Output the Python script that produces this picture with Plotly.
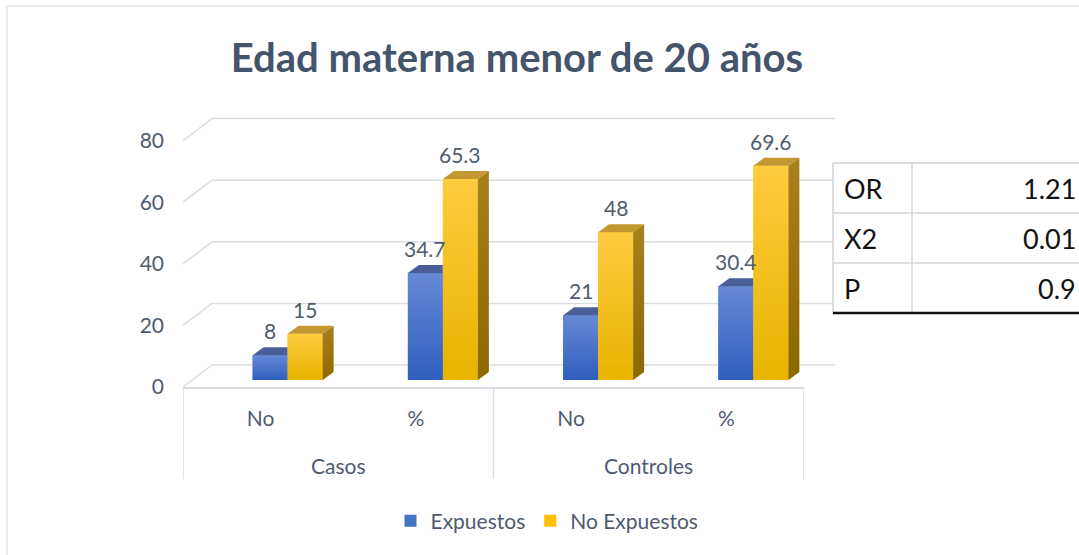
import plotly.graph_objects as go

# chart data
groups = ["Casos", "Casos", "Controles", "Controles"]
subcats = ["No", "%", "No", "%"]
expuestos = [8, 34.7, 21, 30.4]
no_expuestos = [15, 65.3, 48, 69.6]
yticks = [0, 20, 40, 60, 80]
table_labels = ["OR", "X2", "P"]
table_values = ["1.21", "0.01", "0.9"]

W, H = 1079, 555


def px(x):
    return x / W


def py(y):
    return 1 - y / H


FONT = "Lato"
text_c = "#4F5B6E"
grid_c = "#DADDE3"

# pixel geometry of the fake 3D box
k = 3.08                      # px per value unit
base_px = 380                 # where value 0 of the bars sits
front = -7 / k                # front edge of the floor / walls
back = 15 / k                 # back wall
cat_w = (804 - 183) / 4       # px per category
bw = 35 / cat_w
shift = 27 / cat_w
dx = 11 / cat_w
dy = 8 / k

idx = list(range(len(subcats)))

series = [
    dict(name="Expuestos", vals=expuestos, off=shift - bw, mid="#4472C4",
         grad=[[0, "#2F5EBE"], [1, "#6689D5"]], top="#4A5F98", side=None),
    dict(name="No Expuestos", vals=no_expuestos, off=shift, mid="#FFC000",
         grad=[[0, "#E8B400"], [1, "#FFCB40"]], top="#C49830",
         side=[[0, "#8C6800"], [1, "#A8801C"]]),
]

fig = go.Figure()

for s in series:
    fig.add_trace(go.Bar(x=idx, y=s["vals"], width=bw, offset=s["off"], name=s["name"],
                         marker=dict(color=s["mid"], line_width=0), hoverinfo="skip"))

annotations = []
for n, s in enumerate(series):
    for j, v in zip(idx, s["vals"]):
        xl = j + s["off"]
        xr = xl + bw
        # front face with gradient
        fig.add_trace(go.Scatter(x=[xl, xr, xr, xl, xl], y=[0, 0, v, v, 0], fill="toself",
                                 fillgradient=dict(type="vertical", colorscale=s["grad"]),
                                 mode="lines", line=dict(width=0), showlegend=False, hoverinfo="skip"))
        # top face
        if s["side"] is None:
            tx = [xl, xl + dx, xr, xr, xl]
        else:
            tx = [xl, xl + dx, xr + dx, xr, xl]
        fig.add_trace(go.Scatter(x=tx, y=[v, v + dy, v + dy, v, v], fill="toself",
                                 fillcolor=s["top"], mode="lines", line=dict(width=0),
                                 showlegend=False, hoverinfo="skip"))
        # right side face
        if s["side"] is not None:
            fig.add_trace(go.Scatter(x=[xr, xr + dx, xr + dx, xr, xr], y=[0, dy, v + dy, v, 0],
                                     fill="toself",
                                     fillgradient=dict(type="vertical", colorscale=s["side"]),
                                     mode="lines", line=dict(width=0), showlegend=False,
                                     hoverinfo="skip"))
        annotations.append(dict(x=xl + bw / 2, y=v, xref="x", yref="y", text=f"{v:g}",
                                showarrow=False, yanchor="bottom", yshift=10,
                                font=dict(family=FONT, size=21, color=text_c)))

shapes = []
# outer chart border
shapes.append(dict(type="rect", xref="paper", yref="paper", x0=px(7), x1=px(1100),
                   y0=py(600), y1=py(6), line=dict(color="#E1E3E8", width=1.5), layer="below"))
# back wall gridlines and side wall diagonals
for v in yticks:
    shapes.append(dict(type="line", xref="paper", yref="y", x0=px(212), x1=px(835),
                       y0=v + back, y1=v + back, line=dict(color=grid_c, width=1.5), layer="below"))
    shapes.append(dict(type="line", xref="paper", yref="y", x0=px(183), x1=px(212),
                       y0=v + front, y1=v + back, line=dict(color=grid_c, width=1.5), layer="below"))

# category group dividers and labels
bounds = [-0.5]
for j in range(1, len(groups)):
    if groups[j] != groups[j - 1]:
        bounds.append(j - 0.5)
bounds.append(len(groups) - 0.5)
for b in bounds:
    shapes.append(dict(type="line", xref="x", yref="paper", x0=b, x1=b, y0=py(479), y1=py(387),
                       line=dict(color=grid_c, width=1.5)))
for g in dict.fromkeys(groups):
    pos = [j for j in idx if groups[j] == g]
    annotations.append(dict(x=sum(pos) / len(pos), y=py(465), xref="x", yref="paper", text=g,
                            showarrow=False, yanchor="middle",
                            font=dict(family=FONT, size=21, color=text_c)))

# stats table on the right
t_top, row_h = 163, 50
t_bot = t_top + row_h * len(table_labels)
shapes.append(dict(type="rect", xref="paper", yref="paper", x0=px(833), x1=px(1100),
                   y0=py(t_bot), y1=py(t_top), fillcolor="white",
                   line=dict(color="#D4D4D4", width=1.5)))
for r in range(1, len(table_labels)):
    shapes.append(dict(type="line", xref="paper", yref="paper", x0=px(833), x1=px(1100),
                       y0=py(t_top + row_h * r), y1=py(t_top + row_h * r),
                       line=dict(color="#D4D4D4", width=1.5)))
shapes.append(dict(type="line", xref="paper", yref="paper", x0=px(912), x1=px(912),
                   y0=py(t_bot), y1=py(t_top), line=dict(color="#D4D4D4", width=1.5)))
shapes.append(dict(type="line", xref="paper", yref="paper", x0=px(833), x1=px(1100),
                   y0=py(t_bot), y1=py(t_bot), line=dict(color="#111111", width=2.5)))
for r, (lab, val) in enumerate(zip(table_labels, table_values)):
    yc = py(t_top + row_h * r + row_h / 2)
    annotations.append(dict(x=px(842), y=yc, xref="paper", yref="paper", text=lab,
                            showarrow=False, xanchor="left", yanchor="middle",
                            font=dict(family=FONT, size=27, color="#111111")))
    annotations.append(dict(x=px(1078), y=yc, xref="paper", yref="paper", text=val,
                            showarrow=False, xanchor="right", yanchor="middle",
                            font=dict(family=FONT, size=27, color="#111111")))

fig.update_layout(
    width=W, height=H,
    margin=dict(l=0, r=0, t=0, b=0, autoexpand=False),
    paper_bgcolor="white", plot_bgcolor="rgba(0,0,0,0)",
    title=dict(text="<b>Edad materna menor de 20 años</b>", x=px(517), y=py(58),
               xanchor="center", yanchor="middle",
               font=dict(family=FONT, size=40, color="#44546A")),
    xaxis=dict(domain=[px(183), px(804)], range=[-0.5, len(idx) - 0.5], tickvals=idx,
               ticktext=subcats, showline=True, linecolor=grid_c, linewidth=1.5,
               showgrid=False, zeroline=False, ticks="", ticklabelstandoff=12,
               automargin=False, tickfont=dict(family=FONT, size=21, color=text_c)),
    yaxis=dict(domain=[py(387), py(100)], range=[front, (base_px - 100) / k],
               tickvals=[v + front for v in yticks], ticktext=[str(v) for v in yticks],
               showgrid=False, zeroline=False, showline=False, ticks="", automargin=False,
               ticklabelstandoff=18, tickfont=dict(family=FONT, size=21, color=text_c)),
    showlegend=True,
    legend=dict(orientation="h", x=px(547), xanchor="center", y=py(521), yanchor="middle",
                font=dict(family=FONT, size=21, color=text_c), bgcolor="rgba(0,0,0,0)"),
    shapes=shapes,
    annotations=annotations,
)

fig.write_html("out.html", config={"displayModeBar": False},
               post_script="document.body.style.margin='0';")
